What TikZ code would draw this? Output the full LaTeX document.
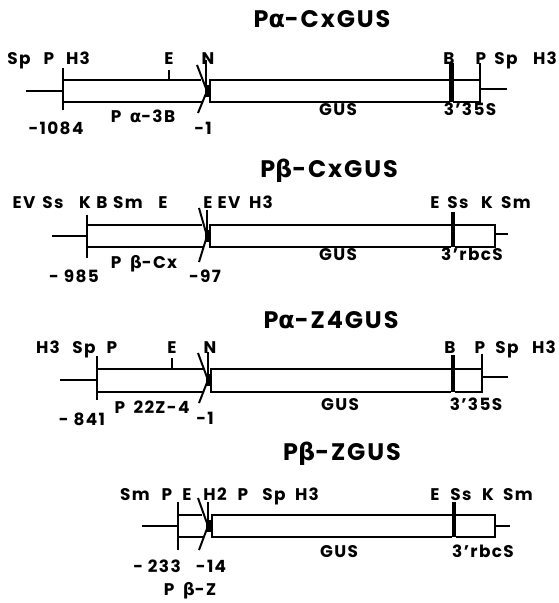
\documentclass[tikz,border=0pt]{standalone}
\usepackage{fontspec}
\setmainfont{Poppins}[LetterSpace=8]
\newfontfamily\greekfont{DejaVu Sans}[LetterSpace=8]
\newcommand{\alphch}{{\greekfont α}}
\newcommand{\betach}{{\greekfont β}}
\begin{document}
\begin{tikzpicture}[
    x=0.025cm,
    y=-0.025cm,
    strand/.style={line width=1.4pt},
    joinbar/.style={line width=3.2pt},
    sitelabel/.style={font=\fontsize{12}{14}\selectfont\bfseries,anchor=base,inner sep=0pt},
    partlabel/.style={font=\fontsize{12}{14}\selectfont\bfseries,anchor=base,inner sep=0pt},
    titlelabel/.style={font=\fontsize{17}{20}\selectfont\bfseries,anchor=base,inner sep=0pt}
  ]
    \useasboundingbox (0,0) rectangle (558,603);

    \node[titlelabel] (ttlA) at (322,28) {P\alphch-CxGUS};
    \draw[strand] (26,91) -- (63,91);
    \draw[strand] (63,68) -- (63,110);
    \draw[strand] (63,80) -- (201,80);
    \draw[strand] (63,102) -- (202,102);
    \draw[strand] (169,70) -- (169,80);
    \draw[strand] (197,65) -- (207,91) -- (198,113);
    \draw[strand] (206,60) -- (206,91);
    \fill (205,85) rectangle (210,97);
    \draw[strand] (450,80) -- (210,80) -- (210,102) -- (450,102);
    \draw[joinbar] (451.5,63) -- (451.5,102);
    \draw[strand] (453,80) -- (480,80) -- (480,102) -- (453,102);
    \draw[strand] (480,63) -- (480,91);
    \draw[strand] (480,89) -- (507,89);
    \node[sitelabel] (aSp) at (19,65) {Sp};
    \node[sitelabel] (aP) at (49,65) {P};
    \node[sitelabel] (aHiii) at (78,65) {H3};
    \node[sitelabel] (aE) at (169,65) {E};
    \node[sitelabel] (aN) at (208,65) {N};
    \node[sitelabel] (aB) at (449,65) {B};
    \node[sitelabel] (aPr) at (481,65) {P};
    \node[sitelabel] (aSpr) at (506,65) {Sp};
    \node[sitelabel] (aHiiir) at (545,65) {H3};
    \node[partlabel] (aStart) at (56,135) {-1084};
    \node[partlabel] (aProm) at (143,123) {P\enspace\alphch-3B};
    \node[partlabel] (aEnd) at (203,135) {-1};
    \node[partlabel] (aGus) at (338,116) {GUS};
    \node[partlabel] (aTerm) at (470,116) {3’35S};

    \node[titlelabel] (ttlB) at (329,178) {P\betach-CxGUS};
    \draw[strand] (52,236) -- (87,236);
    \draw[strand] (87,215) -- (87,258);
    \draw[strand] (87,225) -- (202,225);
    \draw[strand] (87,247) -- (203,247);
    \draw[strand] (199,208) -- (207,236) -- (199,262);
    \draw[strand] (207,210) -- (207,236);
    \fill (205,230) rectangle (210,242);
    \draw[strand] (451,225) -- (210,225) -- (210,247) -- (451,247);
    \draw[joinbar] (453,212) -- (453,247);
    \draw[strand] (455,225) -- (495,225) -- (495,247) -- (455,247);
    \draw[strand] (495,234) -- (508,234);
    \node[sitelabel] (bEV) at (24,208) {EV};
    \node[sitelabel] (bSs) at (53,208) {Ss};
    \node[sitelabel] (bK) at (85,208) {K};
    \node[sitelabel] (bB) at (102,208) {B};
    \node[sitelabel] (bSm) at (128,208) {Sm};
    \node[sitelabel] (bE) at (163,208) {E};
    \node[sitelabel] (bEm) at (208,208) {E};
    \node[sitelabel] (bEVm) at (229,208) {EV};
    \node[sitelabel] (bHiii) at (261,208) {H3};
    \node[sitelabel] (bEr) at (435,208) {E};
    \node[sitelabel] (bSsr) at (458,208) {Ss};
    \node[sitelabel] (bKr) at (487,208) {K};
    \node[sitelabel] (bSmr) at (516,208) {Sm};
    \node[partlabel] (bStart) at (74,282) {- 985};
    \node[partlabel] (bProm) at (144,268) {P\enspace\betach-Cx};
    \node[partlabel] (bEnd) at (205,282) {-97};
    \node[partlabel] (bGus) at (338,260) {GUS};
    \node[partlabel] (bTerm) at (472,260) {3’rbcS};

    \node[titlelabel] (ttlC) at (331,328) {P\alphch-Z4GUS};
    \draw[strand] (60,380) -- (97,380);
    \draw[strand] (97,356) -- (97,400);
    \draw[strand] (97,369) -- (203,369);
    \draw[strand] (97,392) -- (204,392);
    \draw[strand] (172,358) -- (172,369);
    \draw[strand] (198,353) -- (208,380) -- (199,403);
    \draw[strand] (208,352) -- (208,380);
    \fill (206,374) rectangle (211,386);
    \draw[strand] (451,369) -- (211,369) -- (211,392) -- (451,392);
    \draw[joinbar] (453,355) -- (453,392);
    \draw[strand] (455,369) -- (482,369) -- (482,392) -- (455,392);
    \draw[strand] (482,354) -- (482,380);
    \draw[strand] (482,377) -- (508,377);
    \node[sitelabel] (cHiii) at (48,353) {H3};
    \node[sitelabel] (cSp) at (84,353) {Sp};
    \node[sitelabel] (cP) at (112,353) {P};
    \node[sitelabel] (cE) at (172,353) {E};
    \node[sitelabel] (cN) at (210,353) {N};
    \node[sitelabel] (cB) at (450,353) {B};
    \node[sitelabel] (cPr) at (480,353) {P};
    \node[sitelabel] (cSpr) at (507,353) {Sp};
    \node[sitelabel] (cHiiir) at (544,353) {H3};
    \node[partlabel] (cStart) at (82,425) {- 841};
    \node[partlabel] (cProm) at (152,413) {P\enspace 22Z-4};
    \node[partlabel] (cEnd) at (205,424) {-1};
    \node[partlabel] (cGus) at (340,410) {GUS};
    \node[partlabel] (cTerm) at (476,410) {3’35S};

    \node[titlelabel] (ttlD) at (342,460) {P\betach-ZGUS};
    \draw[strand] (142,526) -- (178,526);
    \draw[strand] (178,502) -- (178,550);
    \draw[strand] (178,515) -- (202,515);
    \draw[strand] (178,537) -- (203,537);
    \draw[strand] (198,498) -- (208,526) -- (199,550);
    \draw[strand] (208,502) -- (208,526);
    \fill (206,520) rectangle (212,532);
    \draw[strand] (452,515) -- (212,515) -- (212,537) -- (452,537);
    \draw[joinbar] (454,502) -- (454,537);
    \draw[strand] (456,515) -- (495,515) -- (495,537) -- (456,537);
    \draw[strand] (495,526) -- (510,526);
    \node[sitelabel] (dSm) at (135,500) {Sm};
    \node[sitelabel] (dP) at (167,500) {P};
    \node[sitelabel] (dE) at (187,500) {E};
    \node[sitelabel] (dHii) at (215,500) {H2};
    \node[sitelabel] (dPm) at (243,500) {P};
    \node[sitelabel] (dSp) at (274,500) {Sp};
    \node[sitelabel] (dHiii) at (307,500) {H3};
    \node[sitelabel] (dEr) at (435,500) {E};
    \node[sitelabel] (dSsr) at (461,500) {Ss};
    \node[sitelabel] (dKr) at (488,500) {K};
    \node[sitelabel] (dSmr) at (518,500) {Sm};
    \node[partlabel] (dStart) at (157,572) {- 233};
    \node[partlabel] (dEnd) at (211,572) {-14};
    \node[partlabel] (dProm) at (190,595) {P\enspace\betach-Z};
    \node[partlabel] (dGus) at (339,557) {GUS};
    \node[partlabel] (dTerm) at (483,557) {3’rbcS};
  \end{tikzpicture}
\end{document}
